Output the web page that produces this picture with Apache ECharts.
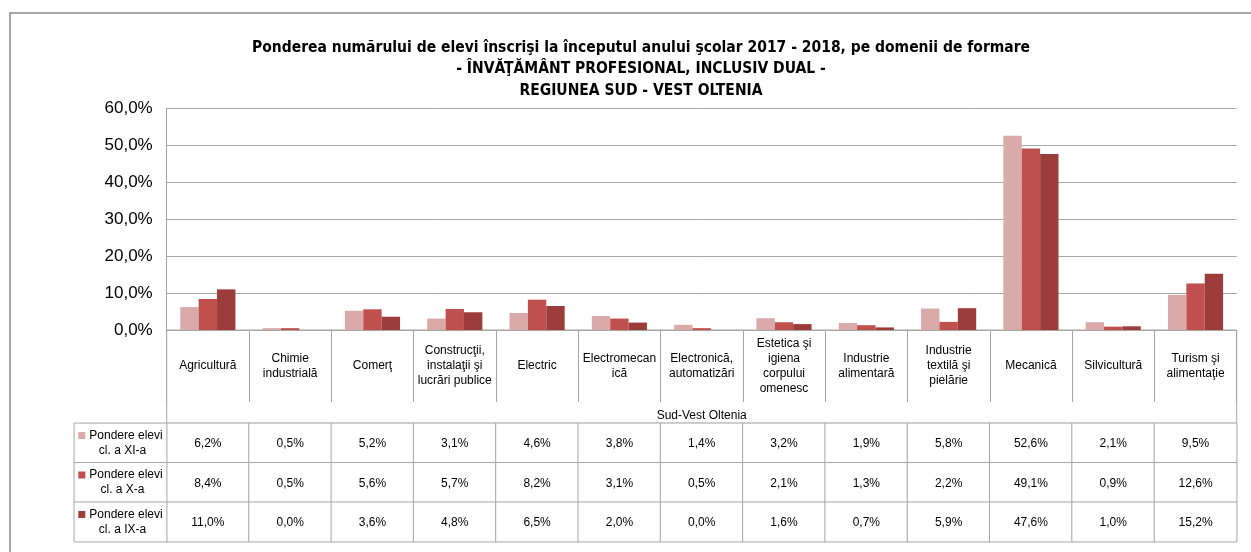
<!DOCTYPE html>
<html>
<head>
<meta charset="utf-8">
<script src="https://cdn.jsdelivr.net/npm/echarts@6/dist/echarts.min.js"></script>
<style>html,body{margin:0;padding:0;background:#fff;}#c{width:1251px;height:552px;}</style>
</head>
<body>
<div id="c"></div>
<script>
var categories = ['Agricultură','Chimie\nindustrială','Comerţ','Construcţii,\ninstalaţii şi\nlucrări publice','Electric','Electromecan\nică','Electronică,\nautomatizări','Estetica şi\nigiena\ncorpului\nomenesc','Industrie\nalimentară','Industrie\ntextilă şi\npielărie','Mecanică','Silvicultură','Turism şi\nalimentaţie'];
var seriesNames = ['Pondere elevi cl. a XI-a','Pondere elevi cl. a X-a','Pondere elevi cl. a IX-a'];
var seriesLabels = [['Pondere elevi','cl. a XI-a'],['Pondere elevi','cl. a X-a'],['Pondere elevi','cl. a IX-a']];
var valsXI = [6.2,0.5,5.2,3.1,4.6,3.8,1.4,3.2,1.9,5.8,52.6,2.1,9.5];
var valsX  = [8.4,0.5,5.6,5.7,8.2,3.1,0.5,2.1,1.3,2.2,49.1,0.9,12.6];
var valsIX = [11.0,0.0,3.6,4.8,6.5,2.0,0.0,1.6,0.7,5.9,47.6,1.0,15.2];
var yTicks = {min:0, max:60, interval:10};
var groupName = 'Sud-Vest Oltenia';
var titleText = 'Ponderea numărului de elevi înscrişi la începutul anului şcolar 2017 - 2018, pe domenii de formare\n- ÎNVĂŢĂMÂNT PROFESIONAL, INCLUSIV DUAL -\nREGIUNEA SUD - VEST OLTENIA';

var colors = ['#DAA9A9','#C0504D','#9D3D3B'];
var lineCol = '#a6a6a6';
var allVals = [valsXI, valsX, valsIX];
function fmt(v){ return v.toFixed(1).replace('.', ',') + '%'; }

var cellData = [];
allVals.forEach(function(arr, j){ arr.forEach(function(v, i){ cellData.push([i, j, v]); }); });
var legData = seriesNames.map(function(n, j){ return [0, j, j]; });

var L = 166.7, W = 1070;
var font = "'Liberation Sans', Arial, sans-serif";

var option = {
  animation: false,
  backgroundColor: '#fff',
  title: {
    text: titleText,
    left: 636, top: 32, textAlign: 'center',
    textStyle: { fontSize: 15.5, fontWeight: 'bold', color: '#000', lineHeight: 21.5,
      fontFamily: "'Liberation Sans Narrow', 'DejaVu Sans Condensed', sans-serif" }
  },
  graphic: [{ type: 'rect', shape: {x: 10, y: 13, width: 1300, height: 600}, style: {fill: 'none', stroke: '#8c8c8c', lineWidth: 1.5}, silent: true }],
  grid: [
    { left: L, width: W, top: 108.3, height: 221.7 },
    { left: L, width: W, top: 423.3, height: 118.4 },
    { left: 74.3, width: L - 74.3, top: 423.3, height: 118.4 },
    { left: L, width: W, top: 330, height: 93.3, show: true, borderColor: lineCol, borderWidth: 1, backgroundColor: 'transparent' }
  ],
  xAxis: [
    { type: 'category', gridIndex: 0, data: categories,
      axisLine: { lineStyle: { color: lineCol } },
      axisTick: { show: true, length: 72, interval: 0, lineStyle: { color: lineCol } },
      axisLabel: { interval: 0, fontSize: 12, lineHeight: 15, color: '#000', margin: 36, verticalAlign: 'middle', fontFamily: font },
      name: groupName, nameLocation: 'middle', nameGap: 80,
      nameTextStyle: { fontSize: 12, color: '#000', fontFamily: font } },
    { type: 'category', gridIndex: 1, data: categories, show: false },
    { type: 'category', gridIndex: 2, data: ['s'], show: false },
    { type: 'value', gridIndex: 3, show: false }
  ],
  yAxis: [
    { type: 'value', gridIndex: 0, min: yTicks.min, max: yTicks.max, interval: yTicks.interval,
      axisLine: { show: true, lineStyle: { color: lineCol } },
      axisTick: { show: false },
      splitLine: { lineStyle: { color: lineCol } },
      axisLabel: { formatter: function(v){ return fmt(v); }, fontSize: 17, color: '#000', margin: 14, fontFamily: font } },
    { type: 'category', gridIndex: 1, data: seriesNames, inverse: true, show: false },
    { type: 'category', gridIndex: 2, data: seriesNames, inverse: true, show: false },
    { type: 'value', gridIndex: 3, show: false }
  ],
  series: [
    { type: 'bar', name: seriesNames[0], data: valsXI, xAxisIndex: 0, yAxisIndex: 0, itemStyle: { color: colors[0] }, barGap: '0%', barCategoryGap: '33%' },
    { type: 'bar', name: seriesNames[1], data: valsX, xAxisIndex: 0, yAxisIndex: 0, itemStyle: { color: colors[1] }, barGap: '0%', barCategoryGap: '33%' },
    { type: 'bar', name: seriesNames[2], data: valsIX, xAxisIndex: 0, yAxisIndex: 0, itemStyle: { color: colors[2] }, barGap: '0%', barCategoryGap: '33%' },
    { type: 'heatmap', xAxisIndex: 1, yAxisIndex: 1, data: cellData,
      itemStyle: { color: '#fff', borderColor: lineCol, borderWidth: 1 },
      label: { show: true, fontSize: 12, color: '#000', fontFamily: font, offset: [0, 1], formatter: function(p){ return fmt(p.value[2]); } },
      emphasis: { disabled: true } },
    { type: 'heatmap', xAxisIndex: 2, yAxisIndex: 2, data: legData,
      itemStyle: { color: '#fff', borderColor: lineCol, borderWidth: 1 },
      label: { show: true, fontSize: 12, color: '#000', fontFamily: font, lineHeight: 15, align: 'center',
        formatter: function(p){ var j = p.value[2]; return '{q' + j + '|}{t|' + seriesLabels[j][0] + '}\n{t|' + seriesLabels[j][1] + '}'; },
        rich: {
          q0: { width: 7, height: 7, backgroundColor: colors[0], padding: 0 },
          q1: { width: 7, height: 7, backgroundColor: colors[1], padding: 0 },
          q2: { width: 7, height: 7, backgroundColor: colors[2], padding: 0 },
          t: { fontSize: 12, color: '#000', fontFamily: font, lineHeight: 15, padding: [0, 0, 0, 4] }
        } },
      emphasis: { disabled: true } }
  ]
};
var chart = echarts.init(document.getElementById('c'));
chart.setOption(option);
</script>
</body>
</html>
